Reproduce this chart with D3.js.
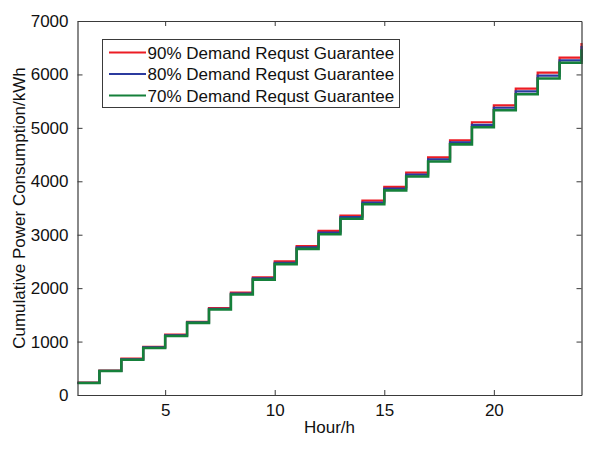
<!DOCTYPE html>
<html>
<head>
<meta charset="utf-8">
<script src="https://cdn.jsdelivr.net/npm/d3@7"></script>
<style>
  html, body { margin: 0; padding: 0; background: #fff; }
  svg { display: block; font-family: "Liberation Sans", Arial, sans-serif; }
</style>
</head>
<body>
<svg id="chart" width="604" height="449"></svg>
<script>
// ---- data ----
const hours = [1,2,3,4,5,6,7,8,9,10,11,12,13,14,15,16,17,18,19,20,21,22,23,24];
const red90 = [230,455,680,900,1130,1370,1628,1915,2203,2500,2789,3070,3356,3637,3895,4161,4449,4765,5105,5422,5733,6032,6313,6590];
const blue80 = [228,452,668,890,1118,1360,1614,1898,2182,2475,2762,3040,3328,3603,3862,4125,4410,4728,5055,5376,5682,5978,6264,6530];
const green70 = [225,450,660,880,1105,1350,1600,1880,2160,2450,2735,3010,3300,3570,3830,4090,4370,4690,5010,5330,5630,5925,6219,6470];
const seriesNames = ["90% Demand Requst Guarantee","80% Demand Requst Guarantee","70% Demand Requst Guarantee"];
const xTicks = [5,10,15,20];
const yTicks = [0,1000,2000,3000,4000,5000,6000,7000];
const xLabel = "Hour/h";
const yLabel = "Cumulative Power Consumption/kWh";

const colors = ["#ec1c24","#2b3a9e","#15803a"];
const series = [red90, blue80, green70];

// ---- layout ----
const svg = d3.select("#chart");
const L = 77.5, R = 581.5, T = 21, B = 395;
const x = d3.scaleLinear().domain([1,24]).range([L,R]);
const y = d3.scaleLinear().domain([0,7000]).range([B,T]);
const axisColor = "#3a3a3a";
const fs = "17px";

// series
const line = d3.line().x((d,i)=>x(hours[i])).y(d=>y(d)).curve(d3.curveStepAfter);
series.forEach((s,k)=>{
  svg.append("path").datum(s)
    .attr("fill","none")
    .attr("stroke",colors[k])
    .attr("stroke-width", k===2 ? 2.6 : 2.2)
    .attr("d",line);
});

// axes (MATLAB style box with inward ticks)
const fmt = d3.format("d");
const gB = svg.append("g").attr("transform",`translate(0,${B})`)
  .call(d3.axisBottom(x).tickValues(xTicks).tickFormat(fmt).tickSizeInner(-5).tickSizeOuter(0).tickPadding(9));
const gT = svg.append("g").attr("transform",`translate(0,${T})`)
  .call(d3.axisTop(x).tickValues(xTicks).tickSizeInner(-5).tickSizeOuter(0).tickFormat(""));
const gL = svg.append("g").attr("transform",`translate(${L},0)`)
  .call(d3.axisLeft(y).tickValues(yTicks).tickFormat(fmt).tickSizeInner(-5).tickSizeOuter(0).tickPadding(9));
const gR = svg.append("g").attr("transform",`translate(${R},0)`)
  .call(d3.axisRight(y).tickValues(yTicks).tickSizeInner(-5).tickSizeOuter(0).tickFormat(""));
[gB,gT,gL,gR].forEach(g=>{
  g.select(".domain").attr("stroke",axisColor).attr("stroke-width",1.2);
  g.selectAll(".tick line").attr("stroke",axisColor);
  g.selectAll(".tick text").attr("fill","#111").style("font-size",fs)
   .style("font-family",'"Liberation Sans", Arial, sans-serif');
});

// axis labels
svg.append("text").attr("x",(L+R)/2).attr("y",433).attr("text-anchor","middle")
  .attr("fill","#111").style("font-size",fs).text(xLabel);
svg.append("text").attr("transform",`translate(25,${(T+B)/2}) rotate(-90)`)
  .attr("text-anchor","middle").attr("fill","#111").style("font-size",fs).text(yLabel);

// legend
const lg = svg.append("g");
lg.append("rect").attr("x",102.5).attr("y",39.5).attr("width",297).attr("height",68)
  .attr("fill","#fff").attr("stroke",axisColor).attr("stroke-width",1);
seriesNames.forEach((n,i)=>{
  const cy = 52.5 + i*21.5;
  lg.append("line").attr("x1",109).attr("x2",146).attr("y1",cy).attr("y2",cy)
    .attr("stroke",colors[i]).attr("stroke-width",2.2);
  lg.append("text").attr("x",147.5).attr("y",cy+6).attr("fill","#111")
    .style("font-size",fs).text(n);
});
</script>
</body>
</html>
